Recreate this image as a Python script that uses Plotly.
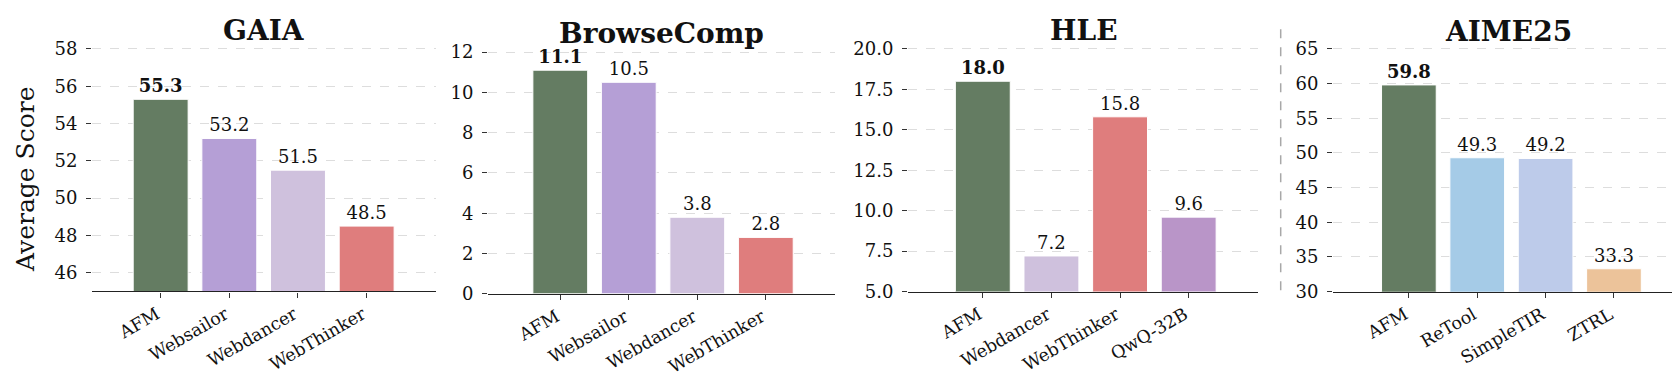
import plotly.graph_objects as go

W, H = 1680, 375
FONT = "DejaVu Serif"

# ---- data ----
titles = ["GAIA", "BrowseComp", "HLE", "AIME25"]
gaia_models = ["AFM", "Websailor", "Webdancer", "WebThinker"]
gaia_scores = [55.3, 53.2, 51.5, 48.5]
browse_models = ["AFM", "Websailor", "Webdancer", "WebThinker"]
browse_scores = [11.1, 10.5, 3.8, 2.8]
hle_models = ["AFM", "Webdancer", "WebThinker", "QwQ-32B"]
hle_scores = [18.0, 7.2, 15.8, 9.6]
aime_models = ["AFM", "ReTool", "SimpleTIR", "ZTRL"]
aime_scores = [59.8, 49.3, 49.2, 33.3]

color_map = {
    "AFM": "#647c62",
    "Websailor": "#b59fd6",
    "Webdancer": "#cfc1dd",
    "WebThinker": "#df7d7d",
    "QwQ-32B": "#b995c8",
    "ReTool": "#a5cbe7",
    "SimpleTIR": "#bdcbea",
    "ZTRL": "#ecc39a",
}

y_ranges = [(45, 58.33), (0, 12.46), (5, 20.375), (30, 65.87)]
y_dticks = [2, 2, 2.5, 5]
y_formats = ["d", "d", ".1f", "d"]

# ---- layout geometry (pixels) ----
x_px = [(84, 428), (480, 827), (900, 1250), (1325, 1675)]
y_px = [(32, 290.2), (32, 292.7), (32, 290.4), (32, 290.5)]
x_ranges = [(-1.0, 4.01), (-1.055, 4.01), (-1.09, 4.01), (-1.11, 4.01)]
title_top_px = [3.5, 6.5, 3.5, 4.5]

panels = [
    (gaia_models, gaia_scores),
    (browse_models, browse_scores),
    (hle_models, hle_scores),
    (aime_models, aime_scores),
]

fig = go.Figure()
layout = {}
annotations = []
for i, (models, scores) in enumerate(panels):
    sfx = "" if i == 0 else str(i + 1)
    texts = [("<b>%.1f</b>" % v) if m == "AFM" else ("%.1f" % v) for m, v in zip(models, scores)]
    fig.add_trace(go.Bar(
        x=models, y=scores, xaxis="x" + sfx, yaxis="y" + sfx,
        marker=dict(color=[color_map[m] for m in models], line=dict(color="white", width=1)),
        width=0.8, text=texts, textposition="outside", cliponaxis=False,
        constraintext="none",
        textfont=dict(family=FONT, size=18, color="#111111"),
        showlegend=False, hoverinfo="skip",
    ))
    x0, x1 = x_px[i]
    t, b = y_px[i]
    layout["xaxis" + sfx] = dict(
        domain=[x0 / W, x1 / W], anchor="y" + sfx, type="category",
        range=list(x_ranges[i]), showline=True, linecolor="#222222", linewidth=1.3,
        ticks="outside", ticklen=5, tickwidth=1.2, tickcolor="#333333",
        tickangle=-30, showgrid=False, zeroline=False, ticklabelshift=-4,
        tickfont=dict(family=FONT, size=17.5, color="#111111"),
    )
    layout["yaxis" + sfx] = dict(
        domain=[1 - b / H, 1 - t / H], anchor="x" + sfx,
        range=list(y_ranges[i]), dtick=y_dticks[i], tick0=0,
        tickformat=y_formats[i], showline=False, zeroline=False,
        ticks="outside", ticklen=5, tickwidth=1.2, tickcolor="#333333",
        ticklabelstandoff=5,
        showgrid=True, gridcolor="#dddddd", griddash="dash", gridwidth=1,
        tickfont=dict(family=FONT, size=18, color="#111111"),
    )
    annotations.append(dict(
        text="<b>%s</b>" % titles[i], xref="paper", yref="paper",
        x=(x0 + x1) / 2 / W, y=1 - title_top_px[i] / H,
        xanchor="center", yanchor="top", height=30, valign="bottom",
        showarrow=False,
        font=dict(family=FONT, size=28, color="#111111"),
    ))

annotations.append(dict(
    text="Average Score", xref="paper", yref="paper", x=17 / W, y=1 - 173.5 / H,
    xanchor="center", yanchor="middle", textangle=-90, showarrow=False,
    font=dict(family=FONT, size=25, color="#111111"),
))

fig.update_layout(
    **layout,
    annotations=annotations,
    shapes=[dict(type="line", xref="paper", yref="paper",
                 x0=1272.7 / W, x1=1272.7 / W, y0=1 - 289 / H, y1=1 - 18 / H,
                 line=dict(color="#a8a8a8", width=1.5, dash="dash"))],
    width=W, height=H, autosize=False,
    margin=dict(l=0, r=0, t=0, b=0),
    paper_bgcolor="white", plot_bgcolor="white",
    bargap=0.2,
)

fig.write_html("out.html")
